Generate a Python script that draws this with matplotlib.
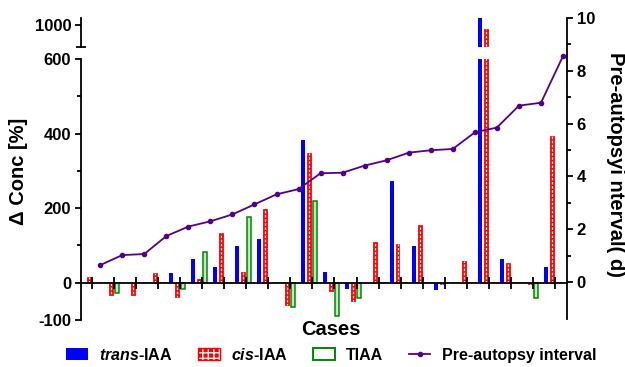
import numpy as np
import matplotlib
matplotlib.use("Agg")
import matplotlib.pyplot as plt
from matplotlib.patches import Patch
from matplotlib.lines import Line2D
from matplotlib.legend_handler import HandlerTuple

plt.rcParams["font.family"] = ["Liberation Sans", "DejaVu Sans"]
plt.rcParams["font.weight"] = "bold"
plt.rcParams["axes.unicode_minus"] = False
plt.rcParams["mathtext.fontset"] = "custom"
plt.rcParams["mathtext.it"] = "Liberation Sans:bold:italic"
plt.rcParams["mathtext.rm"] = "Liberation Sans:bold"

# Data (nan = no bar)
nan = np.nan
trans_iaa = [nan, -2, -2, nan, 27, 65, 43, 98, 118, nan, 383,
             30, -16, -2, 273, 98, -20, nan, 1020, 63, -2, 43]
cis_iaa = [15, -34, -34, 27, -38, 11, 134, 29, 198, -59, 347,
           -21, -48, 110, 103, 155, -4, 58, 990, 52, -3, 393]
tiaa = [nan, -28, nan, nan, -18, 83, nan, 177, nan, -65, 219,
        -88, -40, nan, nan, nan, nan, nan, nan, nan, -40, nan]
interval = [0.64, 1.02, 1.06, 1.74, 2.1, 2.3, 2.56, 2.94, 3.32, 3.52, 4.12,
            4.14, 4.41, 4.61, 4.9, 4.99, 5.04, 5.67, 5.85, 6.68, 6.79, 8.56]

BLUE = "#0000ff"
RED = "#ff0000"
GREEN = "#008800"
GREEN_FILL = "#c0e8c0"
PURPLE = "#550088"

x = np.arange(len(cis_iaa))
w = 0.18
xlim = (-0.5, 21.55)

fig = plt.figure(figsize=(6.25, 3.67), dpi=100)
ax = fig.add_axes([0.1296, 0.128, 0.7776, 0.7112])
ax_top = fig.add_axes([0.1296, 0.8719, 0.7776, 0.0791])
ax2 = fig.add_axes([0.1296, 0.1308, 0.7776, 0.8202])
ax2.patch.set_visible(False)


def draw_bars(a):
    a.bar(x - 0.41, trans_iaa, w, color=BLUE, lw=0)
    a.bar(x - 0.14, cis_iaa, w, color=RED, edgecolor=RED, lw=0.6)
    a.vlines(x - 0.14, 0, np.array(cis_iaa), colors="white", lw=0.9,
             linestyles=(0, (2.0, 1.3)))
    a.bar(x + 0.13, tiaa, w, facecolor=GREEN_FILL, edgecolor=GREEN, lw=1.1)


draw_bars(ax)
draw_bars(ax_top)

# lower segment of the broken left axis
ax.set_xlim(*xlim)
ax.set_ylim(-100, 600)
ax.spines["top"].set_visible(False)
ax.spines["right"].set_visible(False)
ax.spines["bottom"].set_position(("data", 0))
for s in ("left", "bottom"):
    ax.spines[s].set_linewidth(1.3)
ax.set_yticks([-100, 0, 200, 400, 600])
ax.set_yticks([100, 300, 500], minor=True)
ax.set_xticks(x)
ax.set_xticklabels([])
ax.tick_params(axis="y", which="both", direction="out", length=4, width=1.3,
               labelsize=12, pad=3)
ax.tick_params(axis="y", which="minor", length=3)
ax.tick_params(axis="x", direction="inout", length=8, width=1.3)

# upper segment
ax_top.set_xlim(*xlim)
ax_top.set_ylim(941, 1019)
for s in ("top", "right", "bottom"):
    ax_top.spines[s].set_visible(False)
ax_top.spines["left"].set_linewidth(1.3)
ax_top.set_xticks([])
ax_top.set_yticks([1000])
ax_top.set_yticks([941], minor=True)
ax_top.tick_params(axis="y", which="major", direction="out", length=4,
                   width=1.3, labelsize=12, pad=3)
ax_top.tick_params(axis="y", which="minor", direction="inout", length=7,
                   width=1.3)

# right axis with the pre-autopsy interval
ax2.plot(x + 0.37, interval, color=PURPLE, lw=1.3, marker="o", ms=3)
ax2.set_xlim(*xlim)
ax2.set_ylim(-1.4, 10.0)
for s in ("top", "left", "bottom"):
    ax2.spines[s].set_visible(False)
ax2.spines["right"].set_linewidth(1.3)
ax2.set_xticks([])
ax2.yaxis.tick_right()
ax2.set_yticks([0, 2, 4, 6, 8, 10])
ax2.set_yticks([1, 3, 5, 7, 9], minor=True)
ax2.tick_params(axis="y", which="both", direction="out", length=4, width=1.3,
                labelsize=12, pad=3)
ax2.tick_params(axis="y", which="minor", length=3)

fig.text(0.029, 0.534, "\u0394 Conc [%]", rotation=90, ha="center",
         va="center", fontsize=14.5, fontweight="bold")
fig.text(0.984, 0.553, "Pre-autopsyi nterval( d)", rotation=270,
         ha="center", va="center", fontsize=14.5, fontweight="bold")
fig.text(0.53, 0.101, "Cases", ha="center", va="center", fontsize=14.5,
         fontweight="bold")

h_trans = Patch(facecolor=BLUE, lw=0)
h_cis = (Patch(facecolor=RED, edgecolor="white", hatch="+++", lw=0),
         Patch(facecolor="none", edgecolor=RED, lw=1.0))
h_tiaa = Patch(facecolor="white", edgecolor=GREEN, lw=1.4)
h_int = Line2D([], [], color=PURPLE, lw=1.3, marker="o", ms=3)
fig.legend([h_trans, h_cis, h_tiaa, h_int],
           ["$\\mathit{trans}$-IAA", "$\\mathit{cis}$-IAA", "TIAA",
            "Pre-autopsy interval"],
           handler_map={tuple: HandlerTuple(ndivide=1, pad=0)},
           loc="center", bbox_to_anchor=(0.53, 0.033), ncol=4, frameon=False,
           fontsize=11.5, handlelength=1.35, handleheight=0.75,
           handletextpad=0.7, columnspacing=1.6, borderpad=0)

fig.savefig("out.png", dpi=100)
